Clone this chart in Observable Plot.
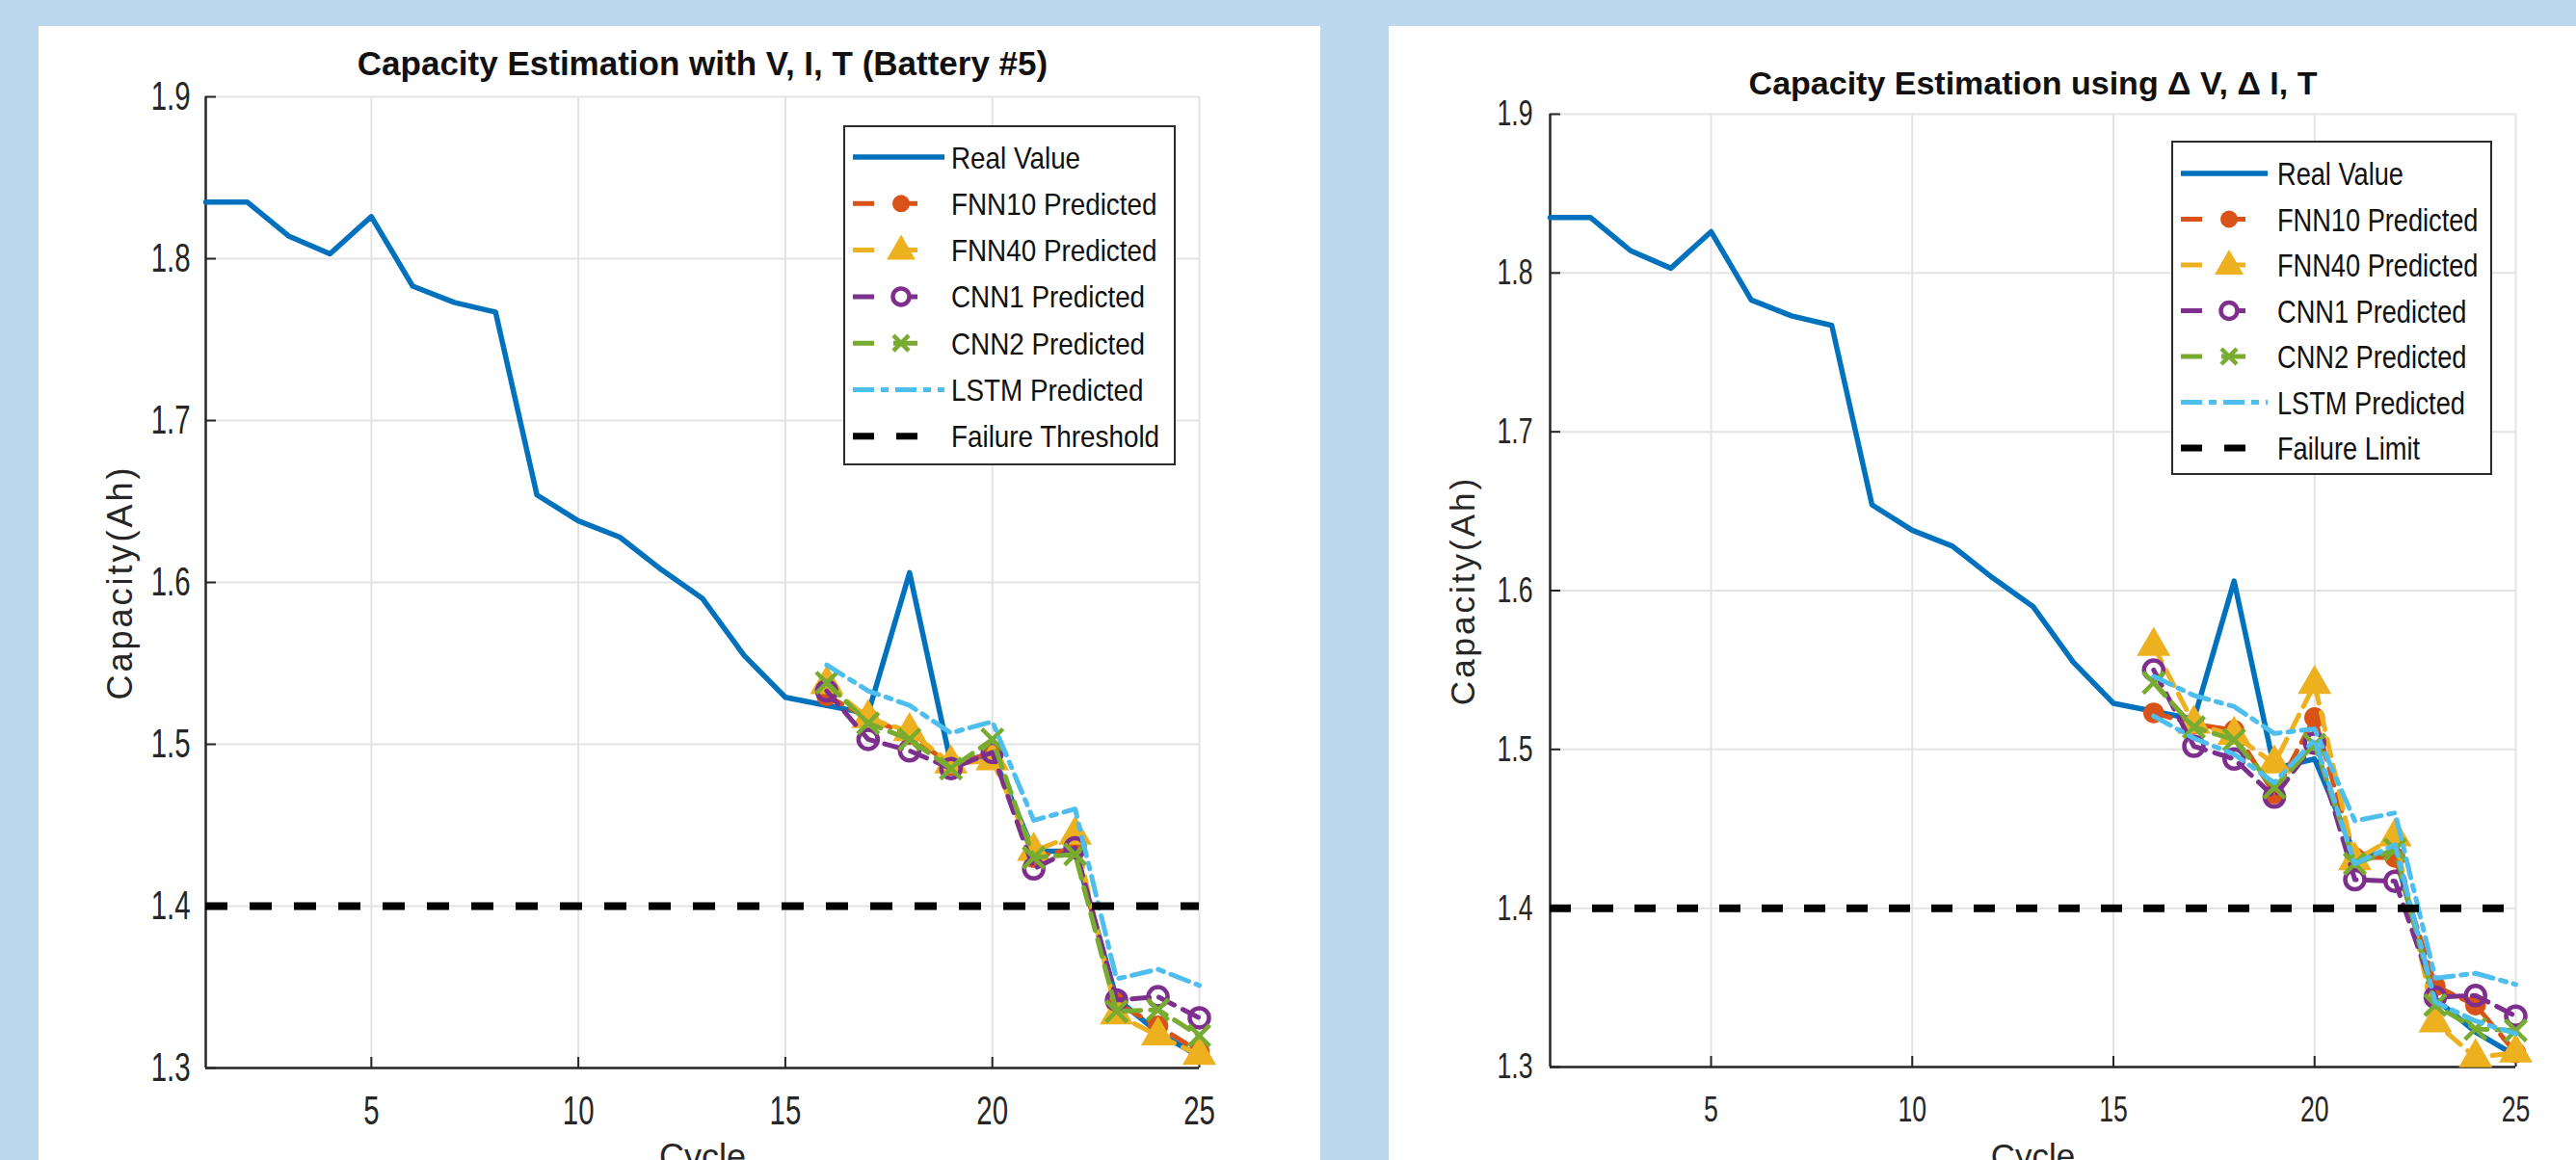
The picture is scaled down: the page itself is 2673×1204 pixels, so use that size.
<!DOCTYPE html>
<html>
<head>
<meta charset="utf-8">
<script src="https://cdn.jsdelivr.net/npm/d3@7"></script>
<script src="https://cdn.jsdelivr.net/npm/@observablehq/plot@0.6"></script>
<style>
html, body { margin: 0; padding: 0; background: #bdd7ee; width: 2673px; height: 1204px; overflow: hidden; }
.panel { position: absolute; background: #ffffff; overflow: hidden; }
.legend { position: absolute; }
</style>
</head>
<body>
<div id="left" class="panel" style="left:40px; top:27px; width:1330px; height:1177px;"></div>
<div id="right" class="panel" style="left:1441px; top:27px; width:1232px; height:1177px;"></div>
<script>
// ---------------- data ----------------
const cycles = [1,2,3,4,5,6,7,8,9,10,11,12,13,14,15,16,17,18,19,20,21,22,23,24,25];
const predCycles = [16,17,18,19,20,21,22,23,24,25];
const realCap = [1.835,1.835,1.814,1.803,1.826,1.783,1.773,1.767,1.654,1.638,1.628,1.608,1.590,1.555,1.529,1.524,1.519,1.606,1.488,1.494,1.434,1.434,1.343,1.322,1.307];

// left chart: Capacity Estimation with V, I, T (Battery #5)
const fnn10Left = [1.530,1.516,1.506,1.487,1.495,1.430,1.436,1.340,1.326,1.310];
const fnn40Left = [1.537,1.516,1.508,1.488,1.490,1.434,1.444,1.333,1.320,1.308];
const cnn1Left  = [1.533,1.503,1.496,1.485,1.495,1.423,1.436,1.342,1.344,1.331];
const cnn2Left  = [1.538,1.513,1.503,1.485,1.503,1.430,1.432,1.335,1.336,1.320];
const lstmLeft  = [1.549,1.533,1.524,1.507,1.514,1.453,1.460,1.355,1.361,1.351];

// right chart: Capacity Estimation using ΔV, ΔI, T
const fnn10Right = [1.523,1.516,1.512,1.472,1.520,1.432,1.432,1.351,1.339,1.309];
const fnn40Right = [1.565,1.516,1.509,1.491,1.541,1.430,1.445,1.328,1.306,1.309];
const cnn1Right  = [1.550,1.502,1.494,1.470,1.504,1.418,1.417,1.344,1.345,1.332];
const cnn2Right  = [1.542,1.514,1.506,1.476,1.503,1.428,1.437,1.339,1.324,1.323];
const lstmRight  = [1.546,1.534,1.527,1.510,1.513,1.455,1.460,1.356,1.359,1.352];
const lstm2Right = [1.521,1.507,1.497,1.479,1.506,1.428,1.440,1.341,1.329,1.321];

const failureThreshold = 1.4;
const xTicks = [5,10,15,20,25];
const yTicks = [1.3,1.4,1.5,1.6,1.7,1.8,1.9];
const xDomain = [1,25];
const yDomain = [1.3,1.9];

const leftTitle = "Capacity Estimation with V, I, T (Battery #5)";
const rightTitle = "Capacity Estimation using \u0394 V, \u0394 I, T";
const yLabel = "Capacity(Ah)";
const xLabel = "Cycle";
const leftLegendNames = ["Real Value","FNN10 Predicted","FNN40 Predicted","CNN1 Predicted","CNN2 Predicted","LSTM Predicted","Failure Threshold"];
const rightLegendNames = ["Real Value","FNN10 Predicted","FNN40 Predicted","CNN1 Predicted","CNN2 Predicted","LSTM Predicted","Failure Limit"];

// ---------------- styles ----------------
const C = {
  real: "#0072BD", fnn10: "#D95319", fnn40: "#EDB120", cnn1: "#7E2F8E",
  cnn2: "#77AC30", lstm: "#4DBEEE", thr: "#000000"
};
const GRID = "#e3e3e3";
const AX = "#262626";
const SANS = "'Liberation Sans',Arial,Helvetica,sans-serif";
const PRED_DASH = "18,10";
const LSTM_DASH = "20,8,6,8";

function rowsOf(xs, ys) { return xs.map((x, i) => ({cycle: x, cap: ys[i]})); }

// horizontally condense text (the original uses a narrow face)
function squeeze(root, selector, s) {
  root.querySelectorAll(selector).forEach(t => {
    const w = t.getComputedTextLength();
    if (w > 0) {
      t.setAttribute("textLength", (w * s).toFixed(2));
      t.setAttribute("lengthAdjust", "spacingAndGlyphs");
    }
  });
}

function makePanel(el, cfg) {
  const W = cfg.width, H = cfg.height;
  const plotW = W - cfg.ml - cfg.mr, plotH = H - cfg.mt - cfg.mb;
  const marks = [
    Plot.gridX(xTicks, {stroke: GRID, strokeOpacity: 1, strokeWidth: 2}),
    Plot.gridY(yTicks, {stroke: GRID, strokeOpacity: 1, strokeWidth: 2}),
    Plot.ruleX([xDomain[0]], {stroke: AX, strokeWidth: 2.5}),
    Plot.ruleY([yDomain[0]], {stroke: AX, strokeWidth: 2.5}),
    Plot.tickX(xTicks, {x: d => d, insetTop: plotH - 11, stroke: AX, strokeWidth: 2}),
    Plot.tickY(yTicks, {y: d => d, insetRight: plotW - 11, stroke: AX, strokeWidth: 2}),
    Plot.axisX(xTicks, {tickSize: 0, tickPadding: cfg.xPad, label: null, fontSize: cfg.tickFont, fontFamily: SANS}),
    Plot.axisY(yTicks, {tickSize: 0, tickPadding: cfg.yPad, label: null, tickFormat: d => d.toFixed(1), fontSize: cfg.tickFont, fontFamily: SANS}),
    Plot.line(rowsOf(cycles, realCap), {x: "cycle", y: "cap", stroke: C.real, strokeWidth: 5.5})
  ];
  for (const s of cfg.series) {
    const rows = rowsOf(predCycles, s.values);
    marks.push(Plot.line(rows, {x: "cycle", y: "cap", stroke: s.color, strokeWidth: 5, strokeDasharray: s.dash}));
    if (s.symbol) {
      const o = {x: "cycle", y: "cap", symbol: s.symbol, r: s.r};
      if (s.filled) { o.fill = s.color; o.stroke = s.color; o.strokeWidth = 1.5; }
      else { o.fill = "none"; o.stroke = s.color; o.strokeWidth = 4.5; }
      marks.push(Plot.dot(rows, o));
    }
  }
  marks.push(Plot.ruleY([failureThreshold], {stroke: C.thr, strokeWidth: 8, strokeDasharray: cfg.thrDash}));
  marks.push(Plot.text([cfg.title], {text: d => d, frameAnchor: "top", lineAnchor: "bottom", dy: cfg.titleDy, fontWeight: "bold", fontSize: cfg.titleFont, fontFamily: SANS, fill: "#111"}));
  marks.push(Plot.text([yLabel], {text: d => d, frameAnchor: "left", textAnchor: "middle", rotate: -90, dx: -cfg.yLabelOff, fontSize: cfg.labelFont, fontFamily: SANS, fill: AX}));
  marks.push(Plot.text([xLabel], {text: d => d, frameAnchor: "bottom", textAnchor: "middle", lineAnchor: "top", dy: cfg.xLabelOff, fontSize: cfg.labelFont, fontFamily: SANS, fill: AX}));

  const svg = Plot.plot({
    width: W, height: H,
    marginLeft: cfg.ml, marginRight: cfg.mr, marginTop: cfg.mt, marginBottom: cfg.mb,
    style: {background: "transparent", color: AX, fontFamily: SANS, fontSize: cfg.tickFont + "px", overflow: "visible", maxWidth: "none"},
    x: {domain: xDomain, axis: null},
    y: {domain: yDomain, axis: null},
    marks
  });
  el.appendChild(svg);
  squeeze(svg, 'g[aria-label="x-axis tick label"] text, g[aria-label="y-axis tick label"] text', cfg.tickSqueeze);
  svg.querySelectorAll("text").forEach(t => { if (t.textContent === yLabel) t.style.letterSpacing = "3px"; });

  // legend
  const L = cfg.legend;
  const ns = "http://www.w3.org/2000/svg";
  const lg = document.createElementNS(ns, "svg");
  lg.setAttribute("width", L.w); lg.setAttribute("height", L.h);
  lg.setAttribute("class", "legend");
  lg.style.left = L.x + "px"; lg.style.top = L.y + "px";
  const items = [
    {color: C.real, width: 5.5, dash: null},
    {color: C.fnn10, width: 5, dash: "22,20,25,100", marker: "fcircle"},
    {color: C.fnn40, width: 5, dash: "22,20,25,100", marker: "triangle"},
    {color: C.cnn1, width: 5, dash: "22,20,25,100", marker: "ocircle"},
    {color: C.cnn2, width: 5, dash: "22,20,25,100", marker: "times"},
    {color: C.lstm, width: 5, dash: "22,7,8,7"},
    {color: C.thr, width: 7, dash: "22,23,22,100"}
  ];
  let html = `<rect x="1" y="1" width="${L.w - 2}" height="${L.h - 2}" fill="#fff" stroke="#2b2b2b" stroke-width="2"/>`;
  items.forEach((it, i) => {
    const cy = L.first + i * L.step;
    html += `<line x1="10" x2="${L.lineEnd}" y1="${cy}" y2="${cy}" stroke="${it.color}" stroke-width="${it.width}" ${it.dash ? `stroke-dasharray="${it.dash}"` : ""}/>`;
    const mx = L.mx;
    if (it.marker === "fcircle") html += `<circle cx="${mx}" cy="${cy}" r="9" fill="${it.color}"/>`;
    if (it.marker === "ocircle") html += `<circle cx="${mx}" cy="${cy}" r="8.5" fill="#fff" stroke="${it.color}" stroke-width="4.5"/>`;
    if (it.marker === "triangle") html += `<path d="M${mx},${cy - 16}L${mx + 15},${cy + 10}L${mx - 15},${cy + 10}Z" fill="${it.color}"/>`;
    if (it.marker === "times") html += `<path d="M${mx - 8},${cy - 8}L${mx + 8},${cy + 8}M${mx + 8},${cy - 8}L${mx - 8},${cy + 8}" stroke="${it.color}" stroke-width="4.5"/>`;
    html += `<text transform="translate(${L.tx},${cy}) scale(${L.squeeze},1)" dy="0.36em" font-family="Liberation Sans, Arial, sans-serif" font-size="${L.font}" fill="#111">${cfg.legendNames[i]}</text>`;
  });
  lg.innerHTML = html;
  el.appendChild(lg);
}

const fnn10Style = {color: C.fnn10, dash: PRED_DASH, symbol: "circle", r: 10, filled: true};
const fnn40Style = {color: C.fnn40, dash: PRED_DASH, symbol: "triangle", r: 12, filled: true};
const cnn1Style  = {color: C.cnn1,  dash: PRED_DASH, symbol: "circle", r: 10, filled: false};
const cnn2Style  = {color: C.cnn2,  dash: PRED_DASH, symbol: "times", r: 10, filled: false};
const lstmStyle  = {color: C.lstm,  dash: LSTM_DASH};

makePanel(document.getElementById("left"), {
  width: 1330, height: 1177, ml: 173, mr: 126, mt: 73, mb: 96,
  xPad: 29, yPad: 16, tickFont: 42, tickSqueeze: 0.7, titleFont: 35, titleDy: -23,
  labelFont: 36, yLabelOff: 88, xLabelOff: 79,
  thrDash: "23,23",
  title: leftTitle, legendNames: leftLegendNames,
  series: [
    {...fnn10Style, values: fnn10Left},
    {...fnn40Style, values: fnn40Left},
    {...cnn1Style, values: cnn1Left},
    {...cnn2Style, values: cnn2Left},
    {...lstmStyle, values: lstmLeft}
  ],
  legend: {x: 835, y: 103, w: 345, h: 353, first: 33, step: 48.3, lineEnd: 105, mx: 60, tx: 112, font: 32, squeeze: 0.87}
});

makePanel(document.getElementById("right"), {
  width: 1232, height: 1177, ml: 167, mr: 63, mt: 91, mb: 97,
  xPad: 30, yPad: 18, tickFont: 37, tickSqueeze: 0.72, titleFont: 34, titleDy: -21,
  labelFont: 35, yLabelOff: 90, xLabelOff: 80,
  thrDash: "22,22",
  title: rightTitle, legendNames: rightLegendNames,
  series: [
    {...fnn10Style, values: fnn10Right},
    {...fnn40Style, values: fnn40Right},
    {...cnn1Style, values: cnn1Right},
    {...cnn2Style, values: cnn2Right},
    {...lstmStyle, values: lstmRight},
    {...lstmStyle, values: lstm2Right}
  ],
  legend: {x: 812, y: 119, w: 333, h: 347, first: 34, step: 47.5, lineEnd: 100, mx: 60, tx: 110, font: 34, squeeze: 0.8}
});
</script>
</body>
</html>
